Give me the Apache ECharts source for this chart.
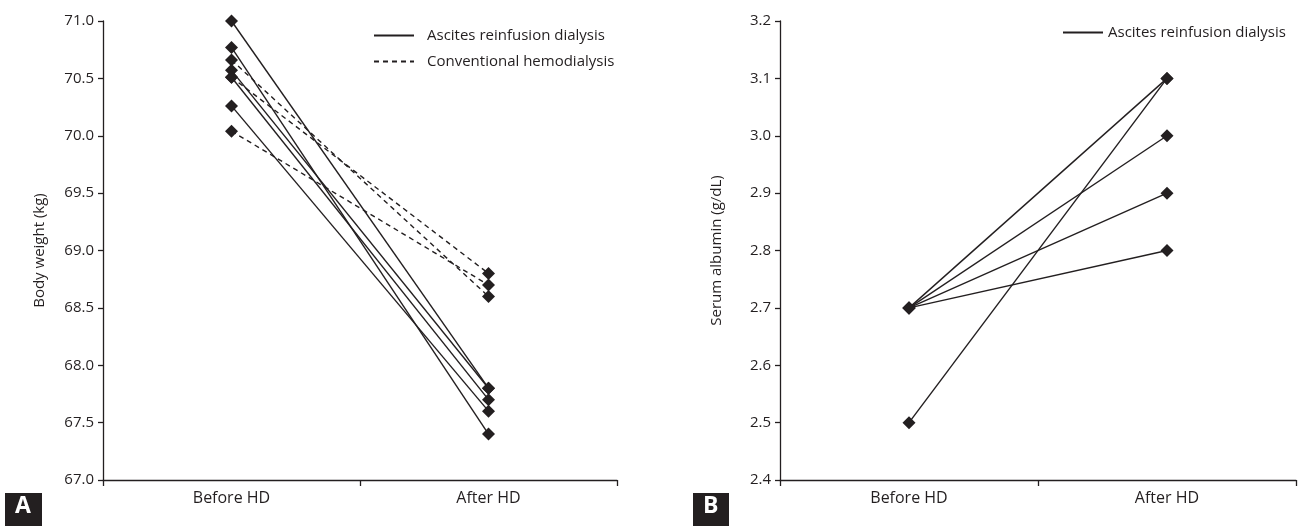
<!DOCTYPE html>
<html>
<head>
<meta charset="utf-8">
<script src="https://cdn.jsdelivr.net/npm/echarts@6/dist/echarts.min.js"></script>
<style>
  html, body { margin: 0; padding: 0; background: #fff; }
  #chart { width: 1298px; height: 526px; }
</style>
</head>
<body>
<div id="chart"></div>
<script>
const categories = ['Before HD', 'After HD'];

// panel A - body weight (kg), one entry per patient
const weightArdBefore = [71.0, 70.77, 70.57, 70.51, 70.26];
const weightArdAfter = [67.8, 67.4, 67.8, 67.7, 67.6];
const weightChdBefore = [70.66, 70.51, 70.04];
const weightChdAfter = [68.6, 68.8, 68.7];

// panel B - serum albumin (g/dL)
const albuminBefore = [2.7, 2.7, 2.7, 2.7, 2.5];
const albuminAfter = [3.1, 3.0, 2.9, 2.8, 3.1];

const ARD = 'Ascites reinfusion dialysis';
const CHD = 'Conventional hemodialysis';
const INK = '#231f20';
const FONT = 'Open Sans';

const chart = echarts.init(document.getElementById('chart'), null, { renderer: 'canvas' });

function pairSeries(name, before, after, gridIdx, dashed) {
  return before.map((b, i) => ({
    name: name,
    type: 'line',
    xAxisIndex: gridIdx,
    yAxisIndex: gridIdx,
    data: [b, after[i]],
    symbol: 'diamond',
    symbolSize: 13,
    itemStyle: { color: INK },
    lineStyle: { color: INK, width: 1.4, type: dashed ? [5, 4] : 'solid' },
    emphasis: { disabled: true },
    z: dashed ? 2 : 3
  }));
}

const series = [].concat(
  pairSeries(ARD, weightArdBefore, weightArdAfter, 0, false),
  pairSeries(CHD, weightChdBefore, weightChdAfter, 0, true),
  pairSeries(ARD, albuminBefore, albuminAfter, 1, false)
);

function xAxis(gridIdx) {
  return {
    type: 'category',
    gridIndex: gridIdx,
    data: categories,
    boundaryGap: true,
    axisLine: { lineStyle: { color: INK, width: 1.3 } },
    axisTick: { show: true, length: 6, lineStyle: { color: INK, width: 1.3 } },
    axisLabel: { color: INK, fontFamily: FONT, fontSize: 16, margin: 10 }
  };
}

function yAxis(gridIdx, min, max, step, name) {
  return {
    type: 'value',
    gridIndex: gridIdx,
    min: min,
    max: max,
    interval: step,
    name: name,
    nameLocation: 'middle',
    nameGap: 56,
    nameTextStyle: { color: INK, fontFamily: FONT, fontSize: 15 },
    axisLine: { show: true, lineStyle: { color: INK, width: 1.3 } },
    axisTick: { show: true, length: 5, lineStyle: { color: INK, width: 1.3 } },
    axisLabel: {
      color: INK, fontFamily: FONT, fontSize: 15, margin: 9,
      formatter: v => v.toFixed(1)
    },
    splitLine: { show: false }
  };
}

const legendBase = {
  orient: 'vertical',
  padding: 0,
  itemWidth: 40,
  itemHeight: 14,
  itemGap: 11,
  selectedMode: false,
  itemStyle: { opacity: 0 },
  textStyle: { color: INK, fontFamily: FONT, fontSize: 15 }
};

chart.setOption({
  animation: false,
  backgroundColor: '#fff',
  grid: [
    { left: 103, top: 21, width: 514, height: 459 },
    { left: 780, top: 21, width: 516, height: 459 }
  ],
  xAxis: [xAxis(0), xAxis(1)],
  yAxis: [
    yAxis(0, 67, 71, 0.5, 'Body weight (kg)'),
    yAxis(1, 2.4, 3.2, 0.1, 'Serum albumin (g/dL)')
  ],
  legend: [
    Object.assign({}, legendBase, {
      left: 373, top: 28, data: [ARD, CHD],
      textStyle: Object.assign({}, legendBase.textStyle, { padding: [0, 0, 0, 8] })
    }),
    Object.assign({}, legendBase, { left: 1062, top: 25, data: [ARD] })
  ],
  graphic: [
    { type: 'rect', left: 5, top: 493, shape: { width: 37, height: 33 }, style: { fill: INK } },
    { type: 'text', left: 15, top: 495, style: { text: 'A', fill: '#fff', font: 'bold 23px "Open Sans"' } },
    { type: 'rect', left: 693, top: 493, shape: { width: 36, height: 33 }, style: { fill: INK } },
    { type: 'text', left: 703, top: 495, style: { text: 'B', fill: '#fff', font: 'bold 23px "Open Sans"' } }
  ],
  series: series
});
</script>
</body>
</html>
